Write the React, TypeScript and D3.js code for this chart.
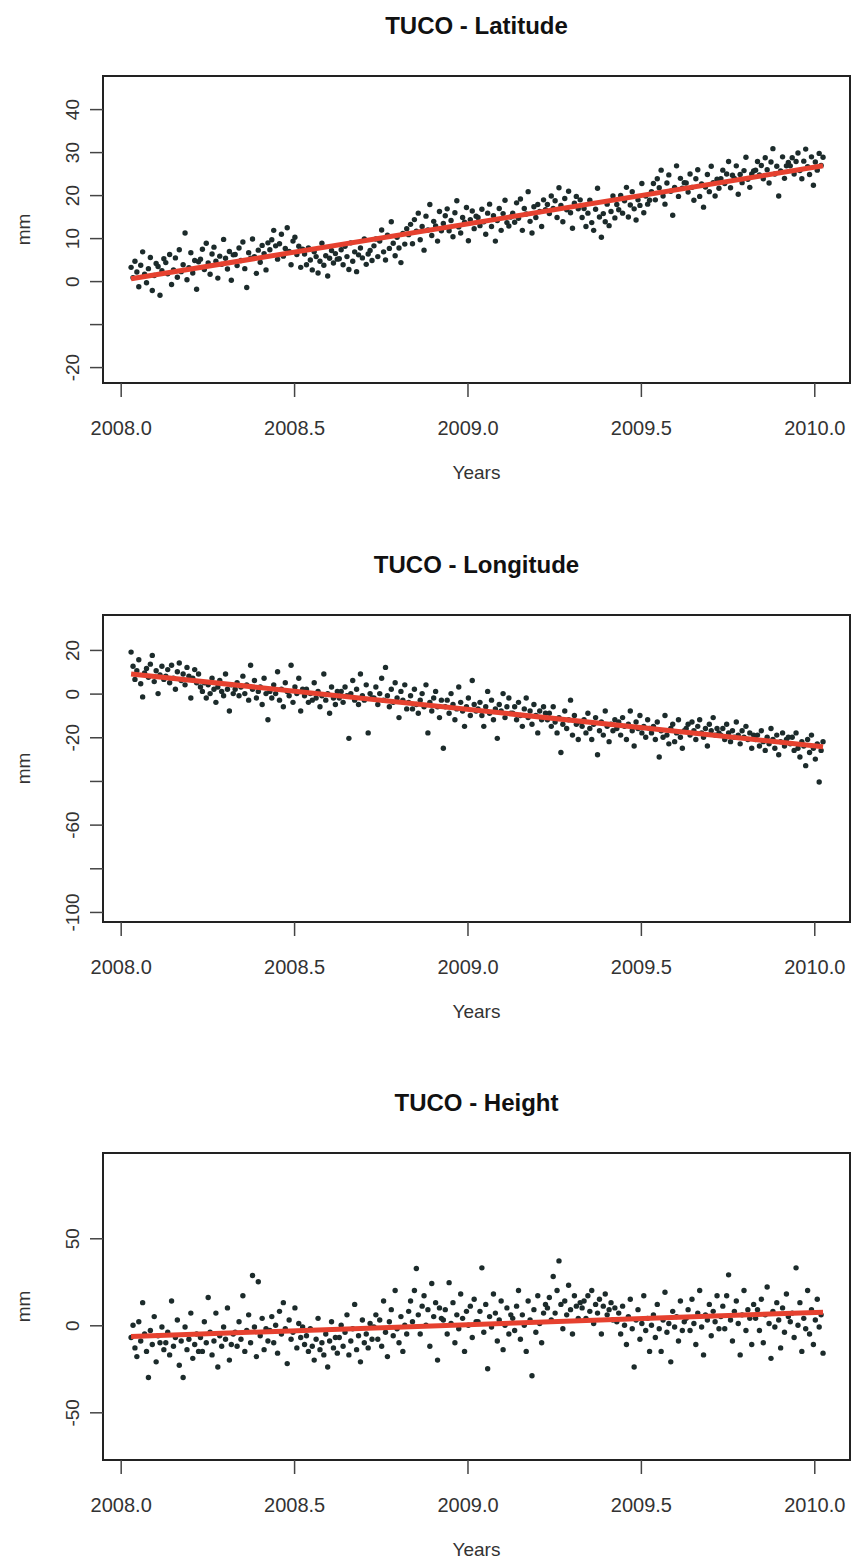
// App.tsx
import React, { useRef, useEffect } from "react";
import * as d3 from "d3";

const WIDTH = 852;
const HEIGHT = 1564;
const BOX = { left: 103, right: 850, height: 307 };
const PANEL_TOPS = [76, 615, 1153];
const FONT = "'Liberation Sans', Arial, Helvetica, sans-serif";

// daily-ish GPS solutions, one every ~2 days starting early 2008
const START_EPOCH = 2008.03;
const STEP_YEARS = 2.03 / 365.25;

const X_DOMAIN = [2007.949, 2010.103];
const X_TICKS = [2008.0, 2008.5, 2009.0, 2009.5, 2010.0];

const TITLES = ["TUCO - Latitude", "TUCO - Longitude", "TUCO - Height"];

// mm
const LAT_MM = [
  3.2, 0.8, 4.6, 2.1, -1.3, 3.7, 6.8, 1.6, -0.4, 2.9, 5.5, -2.2, 1.3, 4.1, 3.4, -3.3, 2.4, 5.2,
  4.3, 1.7, 6.2, -0.8, 2.6, 5.4, 0.9, 7.3, 2.2, 3.8, 11.2, 0.3, 3.1, 6.6, 1.9, 4.8, -1.9, 4.5,
  5.1, 7.4, 2.7, 8.8, 4.2, 1.6, 6.3, 7.9, 4.6, 0.7, 5.8, 3.9, 9.7, 5.3, 2.8, 6.9, 0.2, 6.1,
  6.2, 3.6, 7.7, 4.8, 9.1, 2.9, -1.5, 6.6, 5.3, 9.8, 5.7, 1.8, 7.2, 4.4, 8.3, 6.4, 2.6, 8.9,
  7.3, 9.6, 11.8, 8.2, 5.1, 8.7, 10.9, 5.8, 7.6, 12.4, 6.9, 3.8, 9.3, 10.2, 6.2, 8.1, 3.2, 7.4,
  6.3, 3.8, 7.7, 4.9, 2.6, 6.8, 5.7, 1.9, 4.6, 8.8, 3.7, 5.9, 1.2, 5.3, 7.1, 4.2, 6.4, 5.1,
  5.2, 7.3, 3.8, 8.1, 5.7, 2.7, 8.9, 4.6, 6.8, 2.2, 6.1, 7.7, 5.4, 9.8, 3.9, 6.3, 7.1, 4.8,
  8.2, 9.8, 5.7, 9.3, 11.9, 6.8, 4.9, 10.7, 7.6, 13.8, 8.8, 5.9, 10.2, 7.7, 4.3, 11.1, 8.6, 12.2,
  10.8, 13.2, 8.7, 14.3, 11.6, 15.8, 9.6, 12.7, 7.2, 15.1, 11.9, 17.8, 10.6, 13.9, 12.8, 9.3, 16.2, 11.7,
  13.4, 15.2, 16.8, 11.7, 14.1, 10.3, 15.9, 18.7, 12.6, 11.2, 14.8, 13.7, 17.1, 9.4, 14.3, 16.3, 12.2, 15.1,
  14.8, 12.9, 16.7, 13.8, 10.9, 15.8, 17.9, 12.7, 15.2, 9.3, 14.1, 16.9, 11.8, 15.7, 18.8, 13.6, 12.8, 14.9,
  15.8, 13.7, 18.2, 14.6, 19.1, 11.8, 16.9, 15.6, 20.8, 13.9, 11.2, 17.3, 14.8, 17.8, 16.2, 12.7, 18.9, 16.6,
  17.8, 15.7, 19.8, 16.9, 18.7, 14.8, 21.7, 17.6, 13.8, 19.2, 16.6, 20.9, 15.9, 12.3, 18.1, 19.7, 16.8, 18.9,
  14.8, 16.9, 12.7, 15.8, 18.8, 13.6, 11.8, 16.7, 21.6, 14.9, 10.2, 15.7, 13.8, 17.9, 12.9, 16.2, 19.8, 14.7,
  17.8, 16.6, 19.9, 15.8, 18.7, 21.8, 14.9, 17.7, 20.8, 16.8, 14.2, 18.9, 17.6, 22.7, 15.9, 19.8, 17.9, 18.8,
  20.8, 22.7, 18.9, 23.8, 21.7, 25.8, 19.8, 17.9, 22.8, 24.7, 20.9, 15.3, 21.8, 26.8, 19.7, 23.9, 21.6, 22.9,
  22.8, 20.7, 24.9, 21.8, 18.8, 23.8, 25.9, 19.7, 22.6, 17.2, 21.9, 24.8, 20.8, 26.7, 22.9, 19.8, 23.7, 21.6,
  23.8, 25.8, 22.7, 24.9, 27.8, 21.7, 24.6, 23.9, 26.8, 20.2, 24.8, 22.9, 25.7, 28.8, 23.7, 21.8, 24.9, 25.6,
  25.8, 27.8, 24.7, 26.9, 23.8, 28.7, 25.9, 22.8, 27.7, 30.8, 24.9, 26.7, 19.8, 25.6, 28.9, 23.9, 26.8, 27.6,
  26.8, 28.7, 24.9, 27.8, 29.8, 25.7, 23.8, 27.9, 30.7, 26.6, 24.8, 28.9, 22.3, 27.7, 25.8, 29.7, 26.9, 28.8,
];

const LON_MM = [
  19, 12.5, 6.5, 10.5, 15.5, 4.5, -1.5, 9.5, 11.5, 7.5, 13.5, 17.5, 5.5, 10.5, 0, 8.5, 12.5, 6.5,
  8, 11, 5, 13, 7, 2, 10, 14, 6, 9, 4, 12, 8, -2, 7, 11, 5, 9,
  3, 1, 5, -2, 4, 0, 7, 2, -4, 3, 6, 1, -1, 9, 2, -8, 4, 0,
  2, 5, -1, 3, 8, 0, 4, -3, 13, 2, 6, -2, 1, 3, -5, 7, 0, -12,
  1, -2, 4, 0, 10, -3, 2, -6, 5, 1, -1, 13, -4, 3, 0, 7, -8, 2,
  -1, 2, -4, 0, -3, 5, -2, 1, -6, -1, 9, -3, 0, -9, 3, -2, -5, 1,
  -2, 1, -4, 3, -1, -20.5, 0, 6, -3, 2, -5, 9, -1, -3, 4, -18, 0, -2,
  -2, 3, -5, 0, 7, -3, 12, -1, -6, 2, -4, 5, -2, -11, 1, -3, 4, -7,
  -4, -1, -7, 2, -5, -9, -3, 0, -6, 4, -18, -4, -8, -2, 1, -6, -11, -3,
  -25, -6, -3, -9, 0, -5, -12, -7, 3, -4, -8, -15, -6, -2, -10, 6, -5, -8,
  -7, -4, -10, -15, -6, 1, -9, -3, -12, -7, -20.5, -5, -8, 0, -11, -6, -2, -9,
  -9, -6, -12, -4, -10, -15, -7, -2, -11, -8, -14, -5, -10, -18, -8, -12, -6, -9,
  -12, -9, -15, -6, -13, -18, -11, -27, -14, -8, -16, -12, -3, -19, -10, -14, -21, -13,
  -15, -12, -18, -9, -16, -21, -14, -11, -28, -17, -13, -19, -8, -15, -22, -14, -17, -12,
  -16, -13, -19, -11, -15, -21, -14, -8, -17, -24, -13, -16, -10, -18, -15, -20, -12, -16,
  -18, -15, -21, -13, -29, -17, -20, -10, -19, -23, -16, -14, -22, -18, -12, -20, -25, -17,
  -16, -14, -19, -13, -17, -21, -15, -12, -18, -20, -16, -24, -14, -17, -11, -19, -16, -18,
  -19, -16, -21, -14, -18, -22, -17, -20, -13, -19, -23, -17, -20, -15, -21, -18, -25, -19,
  -21, -19, -24, -17, -22, -26, -20, -23, -16, -21, -25, -19, -28, -22, -18, -24, -21, -20,
  -23, -20, -26, -18, -25, -29, -22, -24, -33, -21, -27, -19, -25, -30, -23, -40.5, -26, -22,
];

const HGT_MM = [
  -7, 0, -13, -18, 2, -9, 13, -5, -15, -30, -3, -11, 5, -21, -6, -10, -1, -14,
  -10, -4, -17, 14, -12, -7, 3, -23, -9, -30, -1, -14, -8, 7, -19, -11, -5, -15,
  -7, -15, 2, -10, 16, -4, -17, -9, 7, -24, -6, -12, -1, -8, 10, -20, -11, -5,
  -4, -12, 2, -8, 17, -15, -3, 6, -10, 28.6, -1, -18, 25, -6, 4, -14, -2, -9,
  -3, 5, -10, 0, -16, 8, -5, 13, -2, -22, 3, -8, -4, 10, -13, 1, -7, -1,
  -11, -6, -15, -2, -12, -20, -8, 4, -14, -10, -17, -5, -24, -9, 2, -13, -7, -16,
  -7, 0, -12, -4, 6, -17, -9, -2, 12, -14, -6, -21, 3, -10, -5, -13, 1, -8,
  -1, 6, -8, 3, -12, 14, -4, -18, 2, 9, -6, 20, -2, -10, 5, -15, 0, -5,
  8, 14, 2, 20, 32.6, 6, -5, 11, 17, 0, 9, -12, 24, 5, 13, -20, 10, 4,
  3, 9, -5, 24.5, 1, 13, -10, 6, -2, 18, 4, -15, 8, 0, 11, -7, 15, 2,
  2, 8, 33, -4, 12, -25, 5, -1, 18, 7, -9, 3, 14, -14, 0, 10, -5, 6,
  4, -3, 11, 20, -8, 6, 0, -15, 14, 3, -29, 9, -4, 17, 1, -10, 7, 12,
  10, 16, 3, 28, 7, 20, 37, 12, -2, 14, 6, 23, 9, -5, 17, 11, 4, 13,
  10, 14, 4, 17, 8, 20, 1, 12, 7, 15, -5, 11, 18, 6, 9, 13, 3, 10,
  2, 7, -5, 11, 0, -11, 5, 15, -2, -24, 3, 9, -8, 1, 17, -3, 4, -15,
  0, 6, -7, 12, -2, -15, 3, 19, -4, 1, -21, 8, -1, 5, -9, 14, -3, 2,
  4, 9, -3, 15, 1, -11, 7, 20, -1, -17, 6, 3, 12, -6, 8, 2, 17, -2,
  5, 11, -2, 17, 29, 3, -9, 8, 14, 1, -17, 6, 20, -3, 9, 4, -11, 12,
  4, 9, -3, 15, -10, 6, 22, 1, -19, 8, -1, 13, 3, -13, 10, -4, 18, 5,
  2, 7, -7, 33, 0, 13, -15, 4, -2, 20, -5, 9, -11, 3, 15, -1, 6, -16,
];

const LAT_DOMAIN = [-23.7, 47.7];
const LON_DOMAIN = [-104.6, 36];
const HGT_DOMAIN = [-77.4, 99];

const LAT_TICKS = [-20, -10, 0, 10, 20, 30, 40];
const LAT_LABELS = [-20, 0, 10, 20, 30, 40];
const LON_TICKS = [-100, -80, -60, -40, -20, 0, 20];
const LON_LABELS = [-100, -60, -20, 0, 20];
const HGT_TICKS = [-50, 0, 50];
const HGT_LABELS = [-50, 0, 50];

const PANELS = [
  { title: TITLES[0], values: LAT_MM, domain: LAT_DOMAIN, ticks: LAT_TICKS, labels: LAT_LABELS },
  { title: TITLES[1], values: LON_MM, domain: LON_DOMAIN, ticks: LON_TICKS, labels: LON_LABELS },
  { title: TITLES[2], values: HGT_MM, domain: HGT_DOMAIN, ticks: HGT_TICKS, labels: HGT_LABELS },
];

export default function App() {
  const svgRef = useRef<SVGSVGElement>(null);

  useEffect(() => {
    const svg = d3.select(svgRef.current);
    svg.selectAll("*").remove();

    svg.append("rect").attr("width", WIDTH).attr("height", HEIGHT).attr("fill", "#fff");

    const x = d3.scaleLinear().domain(X_DOMAIN).range([BOX.left, BOX.right]);
    const midX = (BOX.left + BOX.right) / 2;

    PANELS.forEach((p, pi) => {
      const top = PANEL_TOPS[pi];
      const bottom = top + BOX.height;
      const y = d3.scaleLinear().domain(p.domain).range([bottom, top]);
      const g = svg.append("g").attr("font-family", FONT);

      const pts = p.values.map((v, i) => ({ t: START_EPOCH + i * STEP_YEARS, v }));

      // Title
      g.append("text")
        .attr("x", midX)
        .attr("y", top - 50)
        .attr("dy", "0.35em")
        .attr("text-anchor", "middle")
        .attr("font-size", 24)
        .attr("font-weight", 700)
        .attr("fill", "#111")
        .text(p.title);

      // Observations
      g.append("g")
        .selectAll("circle")
        .data(pts)
        .join("circle")
        .attr("cx", (d) => x(d.t))
        .attr("cy", (d) => y(d.v))
        .attr("r", 2.7)
        .attr("fill", "#1c2b2b");

      // Least squares trend (lm fit)
      const mx = d3.mean(pts, (d) => d.t) as number;
      const my = d3.mean(pts, (d) => d.v) as number;
      const slope =
        d3.sum(pts, (d) => (d.t - mx) * (d.v - my)) /
        d3.sum(pts, (d) => (d.t - mx) * (d.t - mx));
      const [t0, t1] = d3.extent(pts, (d) => d.t) as [number, number];
      const fit = (t: number) => my + slope * (t - mx);

      g.append("line")
        .attr("x1", x(t0))
        .attr("y1", y(fit(t0)))
        .attr("x2", x(t1))
        .attr("y2", y(fit(t1)))
        .attr("stroke", "#e6412f")
        .attr("stroke-width", 5)
        .attr("stroke-linecap", "butt");

      // Frame
      g.append("rect")
        .attr("x", BOX.left)
        .attr("y", top)
        .attr("width", BOX.right - BOX.left)
        .attr("height", BOX.height)
        .attr("fill", "none")
        .attr("stroke", "#222")
        .attr("stroke-width", 2);

      // X axis
      const xAxisG = g
        .append("g")
        .attr("transform", `translate(0,${bottom})`)
        .call(
          d3
            .axisBottom(x)
            .tickValues(X_TICKS)
            .tickFormat(d3.format(".1f") as any)
            .tickSize(14)
            .tickSizeOuter(0),
        );
      xAxisG.select(".domain").remove();
      xAxisG.attr("font-family", FONT).attr("font-size", 20);
      xAxisG.selectAll("line").attr("stroke", "#444").attr("stroke-width", 1.5);
      xAxisG
        .selectAll("text")
        .attr("y", 52)
        .attr("dy", null)
        .attr("fill", "#333");

      g.append("text")
        .attr("x", midX)
        .attr("y", bottom + 89)
        .attr("dy", "0.35em")
        .attr("text-anchor", "middle")
        .attr("font-size", 19)
        .attr("fill", "#333")
        .text("Years");

      // Y axis (R style: labels parallel to the axis)
      const yAxisG = g
        .append("g")
        .attr("transform", `translate(${BOX.left},0)`)
        .call(
          d3
            .axisLeft(y)
            .tickValues(p.ticks)
            .tickFormat((v: any) => (p.labels.includes(v) ? String(v) : ""))
            .tickSize(13)
            .tickSizeOuter(0),
        );
      yAxisG.select(".domain").remove();
      yAxisG.attr("font-family", FONT).attr("font-size", 19);
      yAxisG.selectAll("line").attr("stroke", "#444").attr("stroke-width", 1.5);
      yAxisG
        .selectAll("text")
        .attr("x", null)
        .attr("dy", "0.35em")
        .attr("transform", "translate(-31,0) rotate(-90)")
        .attr("text-anchor", "middle")
        .attr("fill", "#333");

      g.append("text")
        .attr("transform", `translate(23,${(top + bottom) / 2}) rotate(-90)`)
        .attr("dy", "0.35em")
        .attr("text-anchor", "middle")
        .attr("font-size", 19)
        .attr("fill", "#333")
        .text("mm");
    });
  }, []);

  return (
    <svg
      ref={svgRef}
      width={WIDTH}
      height={HEIGHT}
      style={{ position: "absolute", left: 0, top: 0, display: "block" }}
    />
  );
}
